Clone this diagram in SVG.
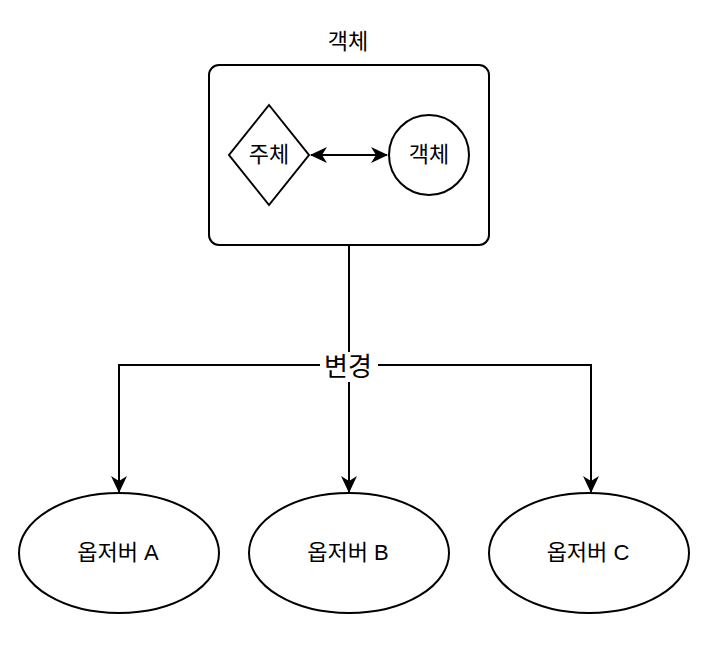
<svg xmlns="http://www.w3.org/2000/svg" width="708" height="662" viewBox="0 0 708 662">
<style>
.s{fill:#fff;stroke:#000;stroke-width:2}
.t{font-family:"Liberation Sans","Noto Sans CJK KR",sans-serif;font-size:22px;fill:#000;text-anchor:middle;dominant-baseline:central}
.c{fill:none;stroke:#000;stroke-width:2}
</style>
<defs>
<marker id="a" viewBox="0 0 17 16" refX="16" refY="8" markerWidth="17" markerHeight="16" markerUnits="userSpaceOnUse" orient="auto-start-reverse">
<path d="M0,0 L17,8 L0,16 L5,8 Z" fill="#000"/>
</marker>
</defs>
<g id="title"><text class="t" x="348" y="41">객체</text></g>
<g id="container"><rect class="s" x="209" y="65" width="280" height="180" rx="10"/></g>
<g id="subject"><polygon class="s" points="269,105 309,155 269,205 229,155"/><text class="t" x="269" y="154">주체</text></g>
<g id="object"><circle class="s" cx="429" cy="155" r="40"/><text class="t" x="429" y="154">객체</text></g>
<g id="obsA"><ellipse class="s" cx="119" cy="553" rx="100" ry="60"/><text class="t" x="118" y="552">옵저버 A</text></g>
<g id="obsB"><ellipse class="s" cx="349" cy="553" rx="100" ry="60"/><text class="t" x="348" y="552">옵저버 B</text></g>
<g id="obsC"><ellipse class="s" cx="589" cy="553" rx="100" ry="60"/><text class="t" x="588" y="552">옵저버 C</text></g>
<g id="connectors">
<line class="c" x1="311" y1="155" x2="387" y2="155" marker-start="url(#a)" marker-end="url(#a)"/>
<path class="c" d="M349,245 V365 H119 V492" marker-end="url(#a)"/>
<path class="c" d="M349,365 V492" marker-end="url(#a)"/>
<path class="c" d="M349,365 H591 V492" marker-end="url(#a)"/>
<rect x="320" y="352" width="58" height="30" fill="#fff"/>
<text class="t" x="348" y="367" style="font-size:26px">변경</text>
</g>
</svg>
